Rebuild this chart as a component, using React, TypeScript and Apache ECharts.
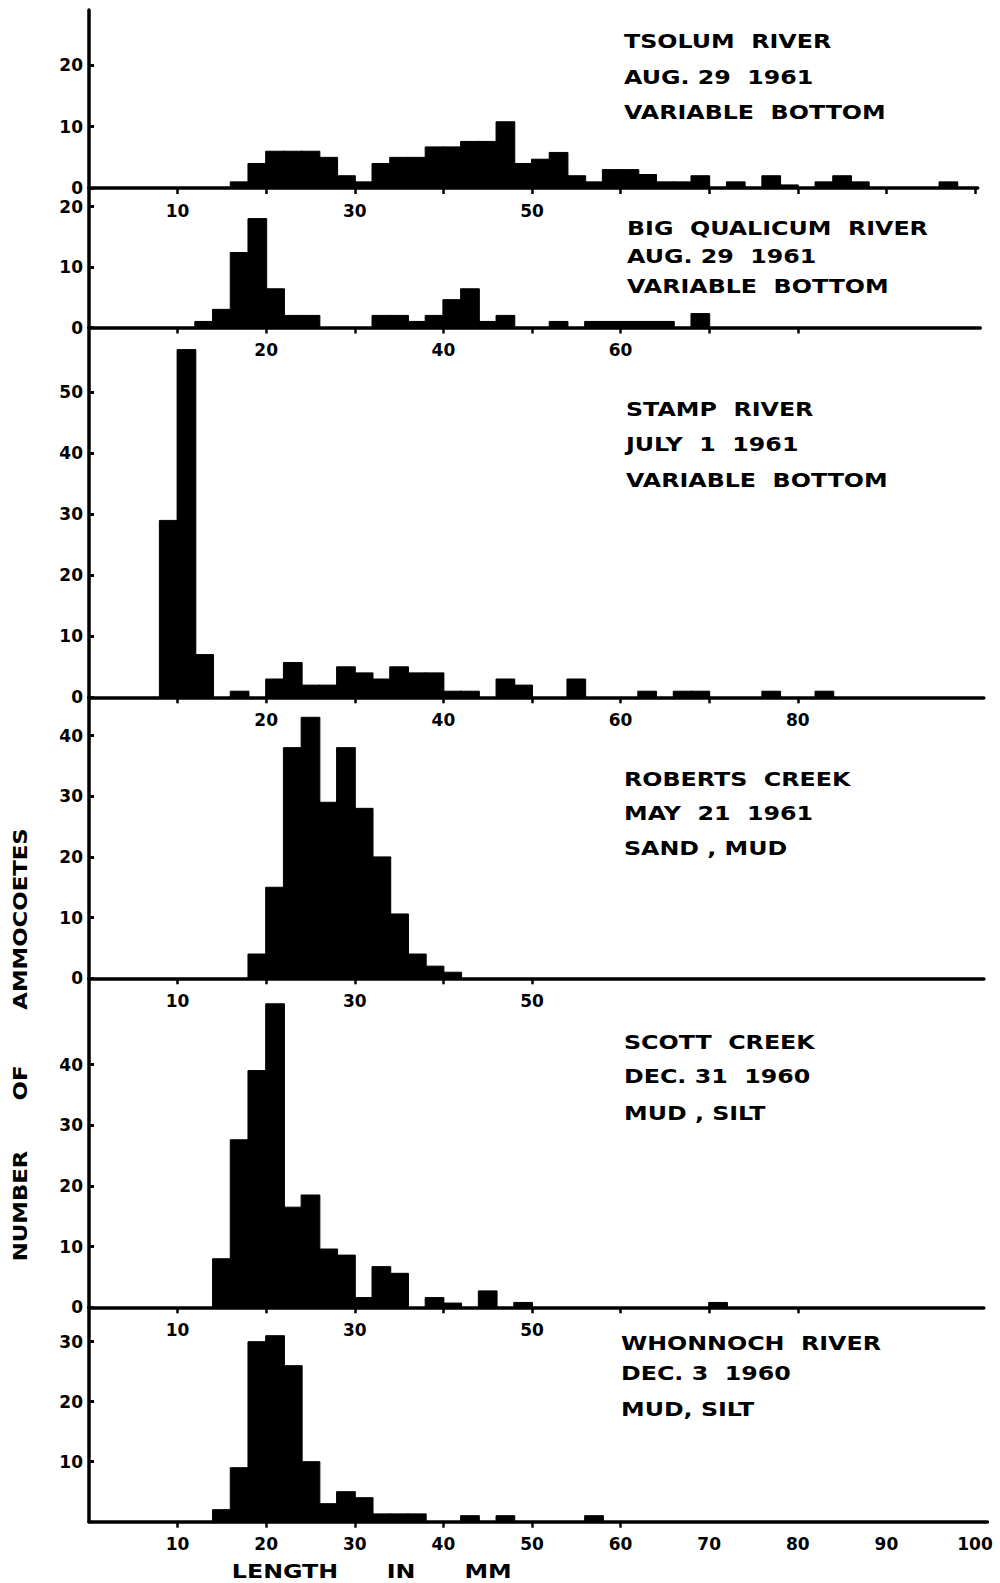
import React, { useEffect, useRef } from "react";
import * as echarts from "echarts";

// ---------- DATA (2 mm length classes, counts of ammocoetes) ----------
const BIN_MM = 2;

const tsolumStart = 16;
const tsolumCounts = [1, 4, 6, 6, 6, 5, 2, 1, 4, 5, 5, 6.7, 6.7, 7.6, 7.6, 10.8, 4, 4.7, 5.8, 2, 1, 3, 3, 2.2, 1, 1, 2, 0, 1, 0, 2, 0.5, 0, 1, 2, 1, 0, 0, 0, 0, 1];

const qualicumStart = 12;
const qualicumCounts = [1, 3, 12.4, 18, 6.4, 2, 2, 0, 0, 0, 2, 2, 1, 2, 4.6, 6.4, 1, 2, 0, 0, 1, 0, 1, 1, 1, 1, 1, 0, 2.3];

const stampStart = 8;
const stampCounts = [29, 57, 7, 0, 1, 0, 3, 5.7, 2, 2, 5, 4, 3, 5, 4, 4, 1, 1, 0, 3, 2, 0, 0, 3, 0, 0, 0, 1, 0, 1, 1, 0, 0, 0, 1, 0, 0, 1];

const robertsStart = 18;
const robertsCounts = [4, 15, 38, 43, 29, 38, 28, 20, 10.6, 4, 2, 1];

const scottStart = 14;
const scottCounts = [8, 27.6, 39, 50, 16.5, 18.5, 9.6, 8.6, 1.6, 6.7, 5.6, 0, 1.6, 0.7, 0, 2.7, 0, 0.8, 0, 0, 0, 0, 0, 0, 0, 0, 0, 0, 0.8];

const whonnochStart = 14;
const whonnochCounts = [2, 9, 30, 31, 26, 10, 3, 5, 4, 1.3, 1.3, 1.3, 0, 0, 1, 0, 1, 0, 0, 0, 0, 1];

// tick labels
const xLabels1 = [10, 30, 50];
const xLabels2 = [20, 40, 60];
const xLabels3 = [20, 40, 60, 80];
const xLabels4 = [10, 30, 50];
const xLabels5 = [10, 30, 50];
const xLabels6 = [10, 20, 30, 40, 50, 60, 70, 80, 90, 100];

const yLabels1 = [0, 10, 20];
const yLabels2 = [0, 10, 20];
const yLabels3 = [0, 10, 20, 30, 40, 50];
const yLabels4 = [0, 10, 20, 30, 40];
const yLabels5 = [0, 10, 20, 30, 40];
const yLabels6 = [10, 20, 30];

// panel annotations
const text1 = ["TSOLUM  RIVER", "AUG. 29  1961", "VARIABLE  BOTTOM"];
const text2 = ["BIG  QUALICUM  RIVER", "AUG. 29  1961", "VARIABLE  BOTTOM"];
const text3 = ["STAMP  RIVER", "JULY  1  1961", "VARIABLE  BOTTOM"];
const text4 = ["ROBERTS  CREEK", "MAY  21  1961", "SAND , MUD"];
const text5 = ["SCOTT  CREEK", "DEC. 31  1960", "MUD , SILT"];
const text6 = ["WHONNOCH  RIVER", "DEC. 3  1960", "MUD, SILT"];

const yTitleWords = ["NUMBER", "OF", "AMMOCOETES"];
const xTitleWords = ["LENGTH", "IN", "MM"];

// ---------- LAYOUT ----------
const FONT = "DejaVu Sans";
const LEFT = 89;
const PX_PER_MM = 8.86;

const panelsLayout = [
  { start: tsolumStart, counts: tsolumCounts, top: 10, bottom: 188, ppu: 6.13, xMax: 100.3, xl: xLabels1, yl: yLabels1, ticks: [10, 20, 30, 40, 50, 60, 70, 80, 90, 100], text: text1, tx: 624, ty: [41.5, 77.5, 112] },
  { start: qualicumStart, counts: qualicumCounts, top: 188, bottom: 327.5, ppu: 6.05, xMax: 100.6, xl: xLabels2, yl: yLabels2, ticks: [10, 20, 30, 40, 50, 60, 70, 80], text: text2, tx: 627, ty: [228, 256, 286] },
  { start: stampStart, counts: stampCounts, top: 327.5, bottom: 697.3, ppu: 6.1, xMax: 101, xl: xLabels3, yl: yLabels3, ticks: [10, 20, 30, 40, 50, 60, 70, 80], text: text3, tx: 626, ty: [409, 444, 480] },
  { start: robertsStart, counts: robertsCounts, top: 697.3, bottom: 978.3, ppu: 6.07, xMax: 101, xl: xLabels4, yl: yLabels4, ticks: [10, 20, 30, 40, 50], text: text4, tx: 624, ty: [779, 813, 848] },
  { start: scottStart, counts: scottCounts, top: 978.3, bottom: 1307.3, ppu: 6.07, xMax: 101, xl: xLabels5, yl: yLabels5, ticks: [10, 20, 30, 40, 50, 60, 70, 80], text: text5, tx: 624, ty: [1042, 1076, 1113] },
  { start: whonnochStart, counts: whonnochCounts, top: 1307.3, bottom: 1521.7, ppu: 6.0, xMax: 101.4, xl: xLabels6, yl: yLabels6, ticks: [10, 20, 30, 40, 50, 60], text: text6, tx: 621, ty: [1343, 1373, 1409] },
];

function buildOption() {
  const grid: any[] = [];
  const xAxis: any[] = [];
  const yAxis: any[] = [];
  const series: any[] = [];
  const graphic: any[] = [];

  panelsLayout.forEach((p, i) => {
    const height = p.bottom - p.top;
    grid.push({ left: LEFT, top: p.top, width: p.xMax * PX_PER_MM, height });
    xAxis.push({
      type: "value",
      gridIndex: i,
      min: 0,
      max: p.xMax,
      splitLine: { show: false },
      axisLine: { show: true, lineStyle: { color: "#000", width: 3.5 } },
      axisTick: { show: true, customValues: p.ticks, length: 6, lineStyle: { color: "#000", width: 2.5 } },
      axisLabel: { customValues: p.xl, color: "#000", fontFamily: FONT, fontWeight: "bold", fontSize: 17, margin: 14 },
    });
    yAxis.push({
      type: "value",
      gridIndex: i,
      min: 0,
      max: height / p.ppu,
      splitLine: { show: false },
      axisLine: { show: true, lineStyle: { color: "#000", width: 3.5 } },
      axisTick: { show: true, inside: true, customValues: p.yl, length: 5, lineStyle: { color: "#000", width: 3 } },
      axisLabel: { customValues: p.yl, color: "#000", fontFamily: FONT, fontWeight: "bold", fontSize: 17, margin: 6 },
    });
    const data = p.counts
      .map((c, k) => [p.start + k * BIN_MM, c])
      .filter((d) => d[1] > 0);
    series.push({
      type: "custom",
      xAxisIndex: i,
      yAxisIndex: i,
      data,
      renderItem: (params: any, api: any) => {
        const x0 = api.value(0);
        const c = api.value(1);
        const a = api.coord([x0, c]);
        const b = api.coord([x0 + BIN_MM, 0]);
        return {
          type: "rect",
          shape: { x: a[0] - 0.5, y: a[1], width: b[0] - a[0] + 1, height: b[1] - a[1] },
          style: { fill: "#000", stroke: "#000", lineWidth: 1 },
        };
      },
    });
    p.text.forEach((t, j) => {
      graphic.push({
        type: "text",
        x: p.tx,
        y: p.ty[j],
        scaleX: 1.25,
        style: { text: t, fill: "#000", font: `bold 19px "${FONT}"`, textAlign: "left", textVerticalAlign: "middle" },
      });
    });
  });

  const yTitleY = [1206, 1083, 919];
  yTitleWords.forEach((w, j) => {
    graphic.push({
      type: "text",
      x: 21,
      y: yTitleY[j],
      rotation: Math.PI / 2,
      scaleX: 1.2,
      style: { text: w, fill: "#000", font: `bold 19px "${FONT}"`, textAlign: "center", textVerticalAlign: "middle" },
    });
  });
  const xTitleX = [285, 401, 488];
  xTitleWords.forEach((w, j) => {
    graphic.push({
      type: "text",
      x: xTitleX[j],
      y: 1571,
      scaleX: 1.25,
      style: { text: w, fill: "#000", font: `bold 19px "${FONT}"`, textAlign: "center", textVerticalAlign: "middle" },
    });
  });

  return {
    animation: false,
    backgroundColor: "#fff",
    grid,
    xAxis,
    yAxis,
    series,
    graphic,
  };
}

export default function App() {
  const ref = useRef<HTMLDivElement>(null);
  useEffect(() => {
    if (!ref.current) return;
    const chart = echarts.init(ref.current, undefined, { renderer: "svg" });
    chart.setOption(buildOption() as any);
    return () => chart.dispose();
  }, []);
  return (
    <div
      ref={ref}
      style={{ position: "absolute", left: 0, top: 0, width: 1000, height: 1583, background: "#fff" }}
    />
  );
}
